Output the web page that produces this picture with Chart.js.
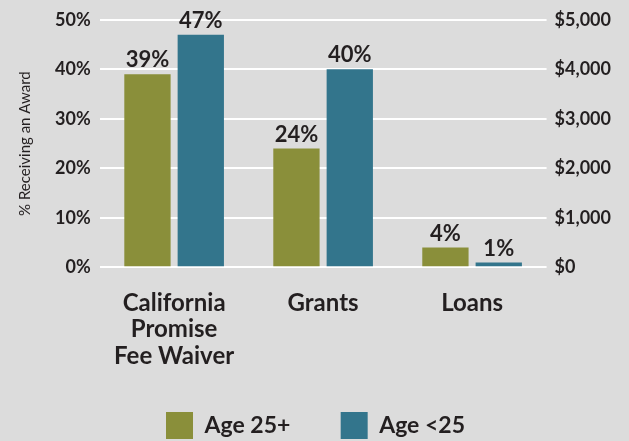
<!DOCTYPE html>
<html>
<head>
<meta charset="utf-8">
<script src="https://cdn.jsdelivr.net/npm/chart.js@4.4.1/dist/chart.umd.min.js"></script>
<style>
  html, body { margin: 0; padding: 0; background: #dcdcdc; }
  #wrap { width: 629px; height: 441px; position: relative; }
</style>
</head>
<body>
<div id="wrap"><canvas id="awardChart"></canvas></div>
<script>
// data
const categories = [['California', 'Promise', 'Fee Waiver'], 'Grants', 'Loans'];
const age25plus = [39, 24, 4];
const ageUnder25 = [47, 40, 1];
const leftTicks = [0, 10, 20, 30, 40, 50];
const rightTicks = [0, 1000, 2000, 3000, 4000, 5000];

const textColor = '#231f20';
const fontFamily = 'Lato, "Open Sans", sans-serif';

// labels above each bar
const barLabels = {
    id: 'barLabels',
    afterDatasetsDraw(chart) {
        const ctx = chart.ctx;
        ctx.save();
        ctx.fillStyle = textColor;
        ctx.font = 'bold 22px ' + fontFamily;
        ctx.textAlign = 'center';
        ctx.textBaseline = 'bottom';
        chart.data.datasets.forEach((ds, i) => {
            chart.getDatasetMeta(i).data.forEach((bar, j) => {
                ctx.fillText(ds.data[j] + '%', bar.x, bar.y - 3);
            });
        });
        ctx.restore();
    }
};

new Chart(document.getElementById('awardChart'), {
    type: 'bar',
    data: {
        labels: categories,
        datasets: [
            { label: 'Age 25+', data: age25plus, backgroundColor: '#8a8f3a', yAxisID: 'y' },
            { label: 'Age <25', data: ageUnder25, backgroundColor: '#33758c', yAxisID: 'y' }
        ]
    },
    options: {
        responsive: true,
        maintainAspectRatio: false,
        animation: false,
        categoryPercentage: 0.716,
        barPercentage: 0.868,
        layout: { padding: { top: 10, left: 12, right: 10, bottom: -8 } },
        plugins: {
            legend: {
                position: 'bottom',
                labels: {
                    boxWidth: 27,
                    boxHeight: 27,
                    padding: 28,
                    color: textColor,
                    font: { family: fontFamily, size: 23, weight: 'bold' },
                    generateLabels(chart) {
                        const items = Chart.defaults.plugins.legend.labels.generateLabels(chart);
                        items[0].text += '    ';
                        return items;
                    }
                }
            },
            tooltip: { enabled: false }
        },
        scales: {
            x: {
                grid: { display: false },
                border: { display: false },
                ticks: {
                    color: textColor,
                    padding: 14,
                    font: { family: fontFamily, size: 24, weight: 'bold', lineHeight: 1.12 }
                }
            },
            y: {
                min: 0,
                max: 50,
                afterBuildTicks(axis) { axis.ticks = leftTicks.map(v => ({ value: v })); },
                grid: { color: '#ffffff', lineWidth: 2, drawTicks: false },
                border: { display: false },
                ticks: {
                    color: textColor,
                    padding: 9,
                    font: { family: fontFamily, size: 18, weight: 'bold' },
                    callback: v => v + '%'
                },
                title: {
                    display: true,
                    text: '% Receiving an Award',
                    color: textColor,
                    padding: { bottom: 12 },
                    font: { family: fontFamily, size: 15, weight: 'normal' }
                }
            },
            y2: {
                display: true,
                position: 'right',
                min: 0,
                max: 5000,
                afterBuildTicks(axis) { axis.ticks = rightTicks.map(v => ({ value: v })); },
                grid: { display: false, drawTicks: false },
                border: { display: false },
                ticks: {
                    color: textColor,
                    padding: 8,
                    font: { family: fontFamily, size: 18, weight: 'bold' },
                    callback: v => '$' + v.toLocaleString('en-US')
                }
            }
        }
    },
    plugins: [barLabels]
});
</script>
</body>
</html>
